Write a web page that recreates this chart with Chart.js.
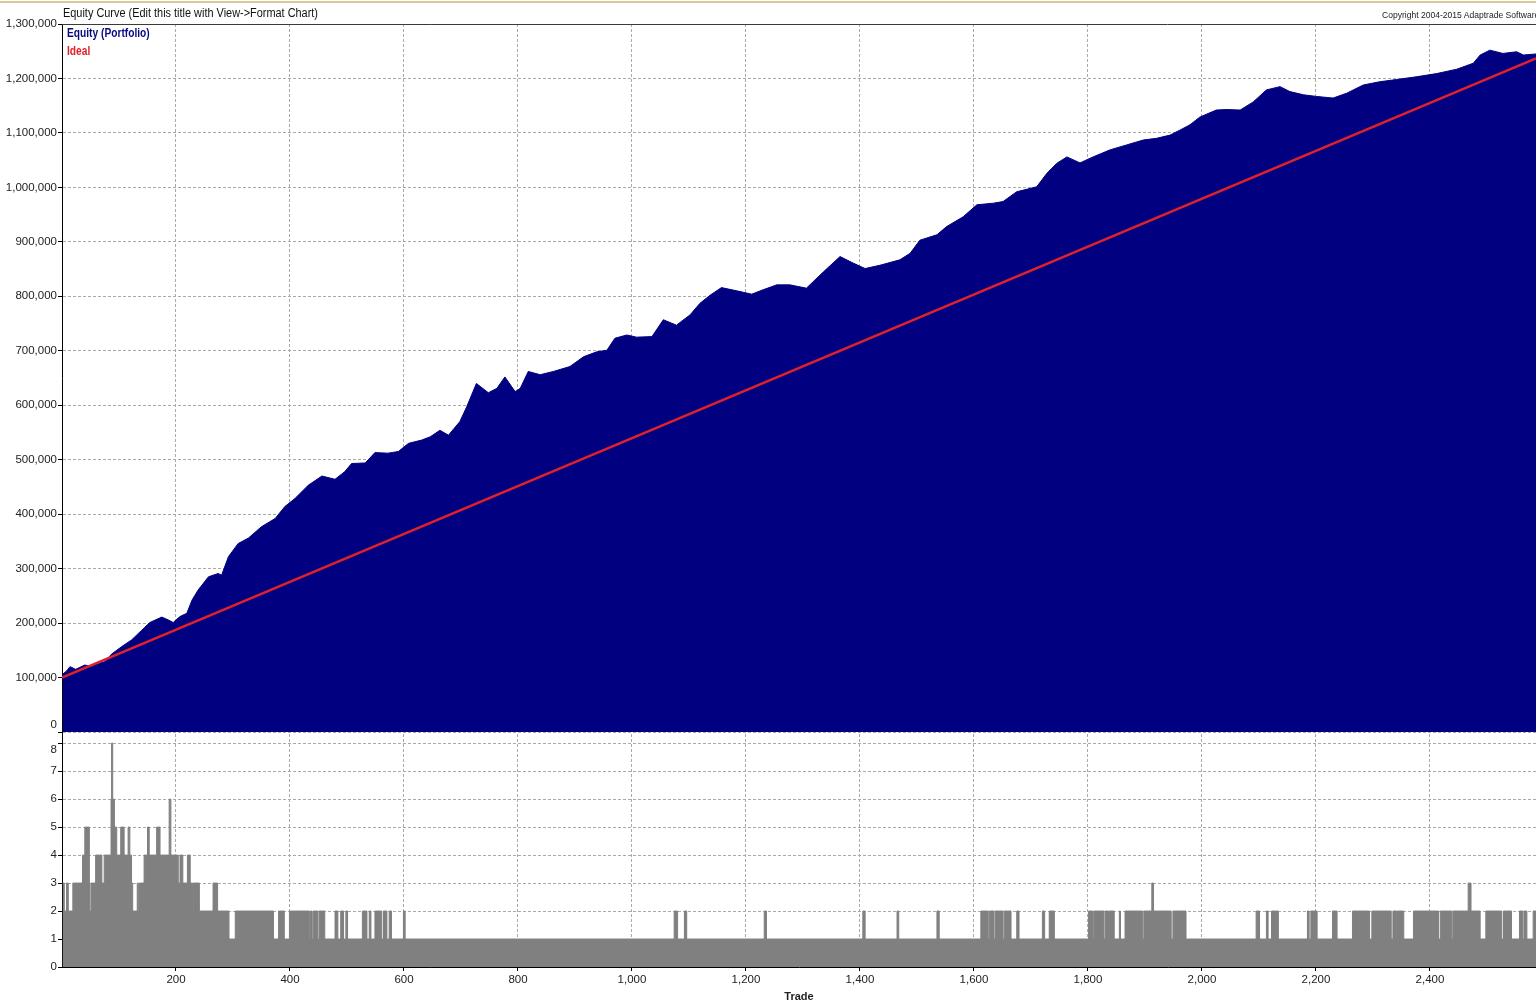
<!DOCTYPE html>
<html>
<head>
<meta charset="utf-8">
<script src="https://cdn.jsdelivr.net/npm/chart.js@4.4.1/dist/chart.umd.min.js"></script>
<style>
html,body{margin:0;padding:0;background:#fff;width:1536px;height:1004px;overflow:hidden;}
#wrap{position:relative;width:1536px;height:1004px;overflow:hidden;}
#c{position:absolute;left:0;top:0;}
.topline{position:absolute;left:0;top:1px;width:1536px;height:2px;background:#d9c894;}
.title{position:absolute;left:63px;top:6px;font-family:"Liberation Sans Narrow","Arial Narrow","Liberation Sans",sans-serif;font-size:12px;color:#111;white-space:nowrap;transform:scaleX(0.91);transform-origin:left top;}
.copy{position:absolute;left:1382px;top:10px;font-family:"Liberation Sans Narrow","Arial Narrow","Liberation Sans",sans-serif;font-size:9px;color:#222;white-space:nowrap;transform:scaleX(0.95);transform-origin:left top;}
.leg{position:absolute;left:67px;font-family:"Liberation Sans Narrow","Arial Narrow","Liberation Sans",sans-serif;font-weight:bold;font-size:12px;white-space:nowrap;transform:scaleX(0.85);transform-origin:left top;}
</style>
</head>
<body>
<div id="wrap">
<canvas id="c" width="1536" height="1004"></canvas>
<div class="topline"></div>
<div class="title">Equity Curve (Edit this title with View-&gt;Format Chart)</div>
<div class="copy">Copyright 2004-2015 Adaptrade Software</div>
<div class="leg" style="top:26px;color:#0a0a80;">Equity (Portfolio)</div>
<div class="leg" style="top:44px;color:#e0202a;">Ideal</div>
</div>
<script>
// ---- Equity curve (trade number, equity $) ----
const eqTrade = [1,8,14,24,40,52,64,75,87,105,122,140,154,175,186,195,207,219,228,239,257,274,280,292,309,327,350,374,391,409,432,456,479,496,508,532,549,572,590,608,631,646,663,678,698,710,727,748,763,777,795,804,818,839,862,891,915,938,956,970,991,1008,1035,1055,1078,1102,1119,1137,1157,1184,1210,1230,1254,1277,1306,1336,1365,1388,1409,1435,1470,1488,1505,1535,1552,1581,1605,1634,1651,1675,1710,1728,1745,1763,1786,1809,1839,1868,1897,1920,1944,1961,1979,1996,2025,2043,2067,2090,2113,2137,2154,2178,2201,2230,2254,2283,2312,2341,2376,2412,2447,2476,2488,2505,2528,2552,2564,2586];
const eqValue = [106000,112000,120000,115000,123000,120000,126000,129000,143000,157000,169000,187000,201000,211000,206000,201000,212000,218000,242000,261000,285000,291000,288000,322000,346000,356000,377000,392000,414000,429000,453000,470000,464000,478000,493000,494000,513000,512000,515000,530000,536000,542000,554000,545000,570000,597000,640000,623000,631000,652000,625000,631000,662000,656000,662000,671000,689000,698000,701000,723000,729000,725000,726000,757000,747000,766000,787000,802000,816000,810000,804000,812000,821000,821000,815000,845000,873000,861000,851000,857000,867000,879000,903000,913000,928000,946000,968000,971000,974000,992000,1001000,1026000,1044000,1056000,1045000,1056000,1069000,1078000,1087000,1090000,1096000,1105000,1115000,1129000,1142000,1143000,1142000,1157000,1179000,1185000,1176000,1170000,1167000,1164000,1173000,1188000,1194000,1198000,1203000,1209000,1217000,1228000,1243000,1252000,1246000,1249000,1243000,1245000];

// ---- Ideal line (end points) ----
const idealTrade = [0, 2586];
const idealValue = [100000, 1237000];

// ---- Lower panel: value that starts at each trade and holds until the next ----
const posStart = [1,4,8,11,19,36,40,48,49,51,59,70,74,86,87,89,92,96,103,109,116,119,122,124,132,134,136,144,150,153,166,172,188,191,204,207,212,220,225,229,230,241,265,273,293,304,371,380,390,399,434,436,439,441,449,451,461,479,484,489,494,498,501,527,535,539,542,549,561,564,570,574,578,599,602,1074,1080,1092,1096,1232,1236,1405,1409,1465,1468,1535,1539,1612,1625,1627,1635,1637,1651,1653,1665,1675,1679,1720,1724,1732,1741,1801,1808,1810,1828,1830,1836,1837,1846,1855,1857,1865,1896,1898,1912,1915,1946,1949,1972,2095,2101,2113,2116,2122,2134,2185,2188,2191,2202,2229,2237,2264,2294,2298,2332,2335,2342,2343,2354,2371,2415,2418,2438,2440,2467,2472,2488,2498,2526,2529,2543,2557,2563,2565,2570,2581,2586];
const posValue = [3,2,3,2,3,4,5,3,2,3,4,3,4,6,8,6,5,4,5,4,5,4,3,2,3,2,3,4,5,4,5,4,6,4,3,4,3,4,3,2,3,2,3,2,1,2,1,2,1,2,1,2,1,2,1,2,1,2,1,2,1,2,1,2,1,2,1,2,1,2,1,2,1,2,1,2,1,2,1,2,1,2,1,2,1,2,1,2,1,2,1,2,1,2,1,2,1,2,1,2,1,2,1,2,1,2,1,2,1,2,1,2,1,2,3,2,1,2,1,2,1,2,1,2,1,2,1,2,1,2,1,2,1,2,1,2,1,2,1,2,1,2,1,2,3,2,1,2,1,2,1,2,1,2,1,2,2];

// ---- Tick labels ----
const xTicks = [200,400,600,800,1000,1200,1400,1600,1800,2000,2200,2400];
const eqTicks = [0,100000,200000,300000,400000,500000,600000,700000,800000,900000,1000000,1100000,1200000,1300000];
const posTicks = [0,1,2,3,4,5,6,7,8];

const FONT = "'Liberation Sans', Arial, sans-serif";
const fmt = v => Number(v).toLocaleString('en-US');
const gridCol = '#a9a9a9';

const framePlugin = {
  id: 'frame',
  afterDatasetsDraw(chart) {
    const {ctx, chartArea: a} = chart;
    ctx.save();
    ctx.strokeStyle = '#3a3a3a';
    ctx.lineWidth = 1;
    ctx.beginPath();
    ctx.moveTo(a.left, a.top + 0.5);
    ctx.lineTo(a.right, a.top + 0.5);
    ctx.stroke();
    ctx.restore();
  }
};

new Chart(document.getElementById('c'), {
  type: 'line',
  data: {
    datasets: [
      {
        label: 'Ideal',
        data: idealTrade.map((t, i) => ({x: t, y: idealValue[i]})),
        yAxisID: 'yEq',
        borderColor: '#e0202a',
        borderWidth: 2.5,
        pointRadius: 0,
        fill: false,
        order: 0
      },
      {
        label: 'Equity (Portfolio)',
        data: eqTrade.map((t, i) => ({x: t, y: eqValue[i]})),
        yAxisID: 'yEq',
        borderColor: '#000080',
        backgroundColor: '#000080',
        borderWidth: 1,
        pointRadius: 0,
        fill: 'origin',
        tension: 0,
        order: 1
      },
      {
        label: 'Positions',
        data: posStart.map((t, i) => ({x: t, y: posValue[i]})),
        yAxisID: 'yPos',
        stepped: 'before',
        borderColor: '#808080',
        backgroundColor: '#808080',
        borderWidth: 1,
        pointRadius: 0,
        fill: 'origin',
        order: 2
      }
    ]
  },
  options: {
    responsive: false,
    animation: false,
    devicePixelRatio: 1,
    events: [],
    layout: {padding: {top: 24, left: 0, right: 0, bottom: 0}},
    plugins: {legend: {display: false}, tooltip: {enabled: false}, title: {display: false}},
    scales: {
      x: {
        type: 'linear',
        min: 0,
        max: 2586,
        afterBuildTicks: s => { s.ticks = xTicks.map(v => ({value: v})); },
        afterFit: s => { s.height = 37; },
        grid: {color: gridCol, lineWidth: 1, drawTicks: true, tickLength: 4, tickColor: '#000'},
        border: {display: true, color: '#000', width: 1, dash: [3, 2]},
        ticks: {font: {family: FONT, size: 11.5}, color: '#222', padding: 2, maxRotation: 0, autoSkip: false, callback: v => fmt(v)},
        title: {display: true, text: 'Trade', color: '#222', font: {family: FONT, size: 11, weight: 'bold'}, padding: {top: 1, bottom: 0}}
      },
      yPos: {
        type: 'linear',
        position: 'left',
        stack: 'panels',
        stackWeight: 235,
        min: 0,
        max: 8.4,
        afterBuildTicks: s => { s.ticks = posTicks.map(v => ({value: v})); },
        afterFit: s => { s.width = 62; },
        grid: {color: gridCol, lineWidth: 1, drawTicks: true, tickLength: 4, tickColor: '#000'},
        border: {display: true, color: '#000', width: 1, dash: [3, 2]},
        ticks: {font: {family: FONT, size: 11.5}, color: '#222', padding: 1, autoSkip: false,
                callback: v => (v === posTicks[posTicks.length - 1] ? ['', fmt(v)] : fmt(v))}
      },
      yEq: {
        type: 'linear',
        position: 'left',
        stack: 'panels',
        stackWeight: 708,
        min: 0,
        max: 1300000,
        afterBuildTicks: s => { s.ticks = eqTicks.map(v => ({value: v})); },
        afterFit: s => { s.width = 62; },
        grid: {color: gridCol, lineWidth: 1, drawTicks: true, tickLength: 4, tickColor: '#000'},
        border: {display: true, color: '#000', width: 1, dash: [3, 2]},
        ticks: {font: {family: FONT, size: 11.5}, color: '#222', padding: 1, autoSkip: false,
                callback: v => (v === 0 ? [fmt(v), ''] : fmt(v))}
      }
    }
  },
  plugins: [framePlugin]
});
</script>
</body>
</html>
